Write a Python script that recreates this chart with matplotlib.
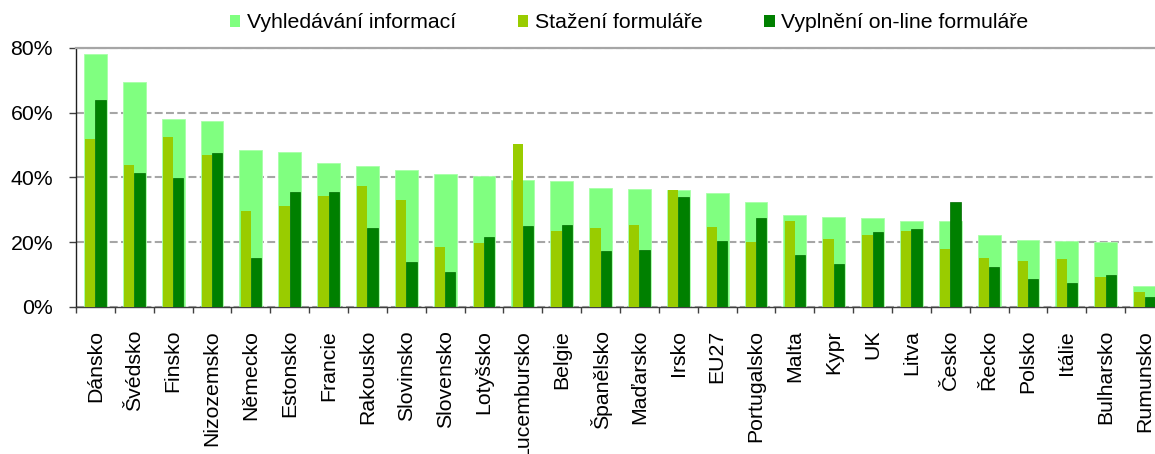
import matplotlib
matplotlib.use("Agg")
import matplotlib.pyplot as plt
import numpy as np
from matplotlib.patches import Patch
from matplotlib.ticker import FuncFormatter, FixedLocator

plt.rcParams['font.family'] = ['Liberation Sans', 'DejaVu Sans']

categories = ["Dánsko", "Švédsko", "Finsko", "Nizozemsko", "Německo", "Estonsko",
              "Francie", "Rakousko", "Slovinsko", "Slovensko", "Lotyšsko", "Lucembursko",
              "Belgie", "Španělsko", "Maďarsko", "Irsko", "EU27", "Portugalsko", "Malta",
              "Kypr", "UK", "Litva", "Česko", "Řecko", "Polsko", "Itálie", "Bulharsko",
              "Rumunsko"]

vyhledavani = [78.2, 69.5, 58.2, 57.5, 48.5, 47.9, 44.4, 43.6, 42.3, 41.2, 40.5, 39.2,
               38.9, 36.9, 36.5, 36.0, 35.2, 32.4, 28.3, 27.7, 27.5, 26.6, 26.6, 22.2,
               20.7, 20.4, 20.1, 6.4]
stazeni = [51.8, 43.9, 52.5, 46.9, 29.6, 31.3, 34.3, 37.4, 33.1, 18.5, 19.7, 50.4,
           23.5, 24.4, 25.3, 36.1, 24.7, 20.1, 26.5, 21.1, 22.2, 23.6, 17.9, 15.0,
           14.2, 14.7, 9.2, 4.6]
vyplneni = [64.0, 41.5, 39.9, 47.7, 15.2, 35.6, 35.5, 24.3, 13.8, 10.7, 21.5, 24.9,
            25.4, 17.4, 17.6, 34.1, 20.4, 27.5, 16.0, 13.3, 23.2, 24.0, 32.3, 12.5,
            8.7, 7.3, 9.9, 3.1]

series_names = ["Vyhledávání informací", "Stažení formuláře", "Vyplnění on-line formuláře"]
colors = ["#80FF80", "#99CC00", "#008000"]
yticks = [0, 20, 40, 60, 80]

FS = 15.3
W, H = 1155, 454
fig = plt.figure(figsize=(W / 100, H / 100), dpi=100)
ax = fig.add_axes([76 / W, 147 / H, 1088 / W, 259 / H])

x = np.arange(len(categories))
ax.bar(x, vyhledavani, width=0.585, color=colors[0], edgecolor="#A8FFA8", linewidth=0.6, zorder=2)
nw = 0.265
ax.bar(x - nw / 2, stazeni, width=nw, color=colors[1], linewidth=0, zorder=3)
ax.bar(x + nw / 2, vyplneni, width=nw, color=colors[2], edgecolor="#006A00", linewidth=0.5, zorder=3)

ax.set_xlim(-0.5, len(categories) - 0.5)
ax.set_ylim(0, 80)
ax.set_yticks(yticks)
ax.yaxis.set_major_formatter(FuncFormatter(lambda v, p: f"{int(v)}%"))

ax.set_xticks(x)
ax.set_xticklabels(categories, rotation=90, fontsize=FS, va="top", ha="center")
ax.xaxis.set_minor_locator(FixedLocator(np.arange(-0.5, len(categories) + 0.5, 1)))
ax.tick_params(axis="x", which="major", length=0, pad=16.5)
ax.tick_params(axis="x", which="minor", length=4.5, width=1.0, color="#404040", direction="out")
ax.tick_params(axis="y", length=5, width=1.0, color="#404040", direction="out", pad=11.5, labelsize=FS)

ax.set_axisbelow(True)
ax.yaxis.grid(True, color="#A6A6A6", linewidth=1.5, linestyle=(0, (3.8, 1.6)), zorder=0)

ax.spines["right"].set_visible(False)
ax.spines["top"].set_color("#A6A6A6")
ax.spines["top"].set_linewidth(1.6)
ax.spines["left"].set_color("#202020")
ax.spines["left"].set_linewidth(1.0)
ax.spines["bottom"].set_color("#404040")
ax.spines["bottom"].set_linewidth(1.0)

handles = [Patch(facecolor=c, edgecolor="none") for c in colors]
fig.legend(handles, series_names, loc="center", bbox_to_anchor=(629 / W, 1 - 23 / H),
           ncol=3, frameon=False, fontsize=FS, handlelength=0.5, handleheight=0.5,
           handletextpad=0.3, columnspacing=2.9, borderaxespad=0)

fig.savefig("out.png", dpi=100)
